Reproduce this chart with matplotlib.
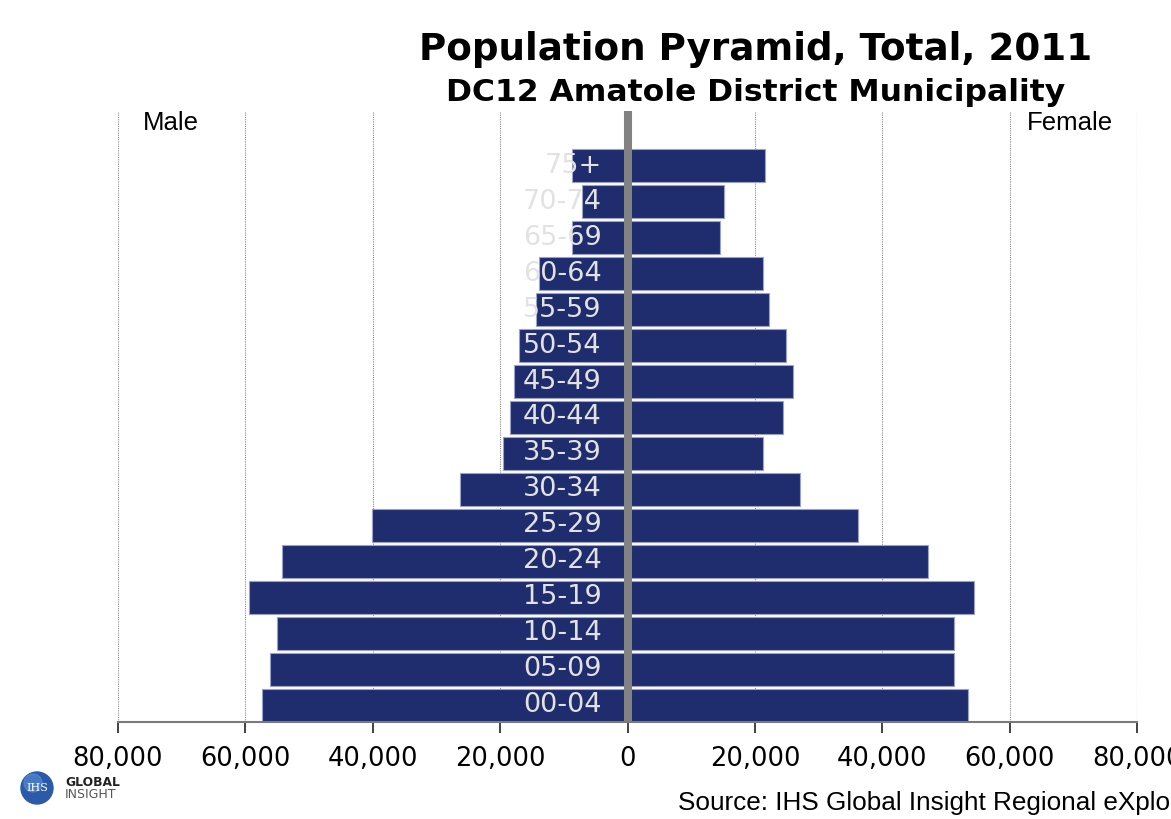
import matplotlib.pyplot as plt
from matplotlib.patches import Circle
from matplotlib.ticker import FuncFormatter

# Age groups, bottom to top
ages = ['00-04', '05-09', '10-14', '15-19', '20-24', '25-29', '30-34', '35-39',
        '40-44', '45-49', '50-54', '55-59', '60-64', '65-69', '70-74', '75+']
male = [57400, 56200, 55000, 59400, 54200, 40100, 26300, 19550,
        18400, 17800, 17000, 14400, 13850, 8700, 7100, 8750]
female = [53400, 51300, 51300, 54450, 47150, 36250, 27100, 21250,
          24450, 26000, 24950, 22250, 21250, 14450, 15100, 21650]
xticks = [-80000, -60000, -40000, -20000, 0, 20000, 40000, 60000, 80000]

bar_color = '#1f2c6e'
edge_color = '#9aa2cc'

fig = plt.figure(figsize=(11.71, 8.19), dpi=100)
ax = fig.add_axes([118 / 1171, 1 - 722 / 819, 1019 / 1171, 611 / 819])

ypos = list(range(len(ages)))
ax.barh(ypos, [-m for m in male], height=0.93, color=bar_color,
        edgecolor=edge_color, linewidth=0.8, zorder=2)
ax.barh(ypos, female, height=0.93, color=bar_color,
        edgecolor=edge_color, linewidth=0.8, zorder=2)

# age labels sit just left of the centre line
for i, lab in enumerate(ages):
    ax.annotate(lab, xy=(0, i), xytext=(-18.5, 0), textcoords='offset points',
                ha='right', va='center', fontsize=19.5, color='#e2e2e2',
                family='DejaVu Sans', zorder=4)

# thick grey centre line
ax.axvline(0, color='#828282', linewidth=5.8, zorder=3)

ax.set_xlim(-80000, 80000)
ax.set_ylim(-0.465, 16.52)
ax.set_xticks(xticks)
ax.xaxis.set_major_formatter(FuncFormatter(lambda v, p: f'{abs(int(v)):,}'))
ax.set_yticks([])
ax.grid(axis='x', linestyle=(0, (1, 1)), color='#8a8a8a', linewidth=0.8, zorder=0)
for s in ['left', 'right', 'top']:
    ax.spines[s].set_visible(False)
ax.spines['bottom'].set_color('#7a7a7a')
ax.spines['bottom'].set_linewidth(1.5)
ax.spines['bottom'].set_zorder(5)
ax.tick_params(axis='x', length=8, width=1.2, color='#222222',
               labelsize=18.5, pad=9)

ax.text(0.024, 0.981, 'Male', transform=ax.transAxes, fontsize=18.5,
        family='Liberation Sans', va='center', ha='left')
ax.text(0.976, 0.981, 'Female', transform=ax.transAxes, fontsize=18.5,
        family='Liberation Sans', va='center', ha='right')

fig.text(0.645, 0.939, 'Population Pyramid, Total, 2011', ha='center',
         va='center', fontsize=26.8, fontweight='bold')
fig.text(0.645, 0.887, 'DC12 Amatole District Municipality', ha='center',
         va='center', fontsize=22.6, fontweight='bold')

fig.text(678 / 1171, 1 - 803 / 819, 'Source: IHS Global Insight Regional eXplorer version 2.5',
         ha='left', va='center', fontsize=18.8, family='Liberation Sans')

# small company logo in the corner
logo = fig.add_axes([0, 0, 1, 1], zorder=-1)
logo.set_xlim(0, 1171)
logo.set_ylim(819, 0)
logo.axis('off')
logo.add_patch(Circle((37, 788), 16, color='#2a5aa8'))
logo.add_patch(Circle((33, 783), 9, color='#5d8fd6', alpha=0.6))
logo.text(37, 788, 'IHS', ha='center', va='center', fontsize=8,
          color='white', family='DejaVu Serif')
logo.text(65, 782, 'GLOBAL', ha='left', va='center', fontsize=8.8,
          fontweight='bold', color='#222222')
logo.text(65, 795, 'INSIGHT', ha='left', va='center', fontsize=9,
          color='#555555')

fig.savefig('out.png', dpi=100, facecolor='white')
